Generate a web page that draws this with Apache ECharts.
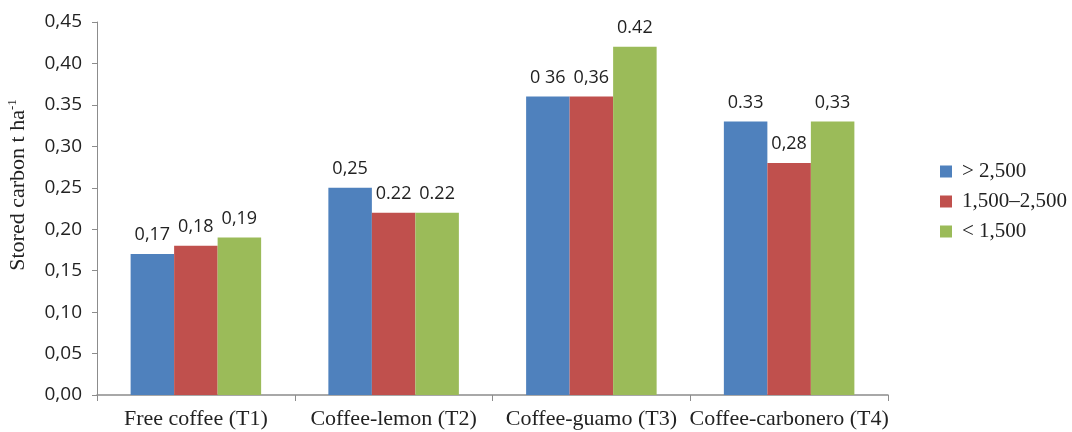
<!DOCTYPE html>
<html>
<head>
<meta charset="utf-8">
<script src="https://cdn.jsdelivr.net/npm/echarts@6/dist/echarts.min.js"></script>
<style>
  html, body { margin: 0; padding: 0; background: #fff; }
  #chart { width: 1072px; height: 432px; }
</style>
</head>
<body>
<div id="chart"></div>
<script>
// Stored carbon by coffee system and altitude band (t ha-1)
const categories = ['Free coffee (T1)', 'Coffee-lemon (T2)', 'Coffee-guamo (T3)', 'Coffee-carbonero (T4)'];
const seriesNames = ['> 2,500', '1,500\u20132,500', '< 1,500'];
const highAltitude = [0.17, 0.25, 0.36, 0.33];
const midAltitude = [0.18, 0.22, 0.36, 0.28];
const lowAltitude = [0.19, 0.22, 0.42, 0.33];
// Value labels as printed above the bars
const highLabels = ['0,17', '0,25', '0 36', '0.33'];
const midLabels = ['0,18', '0.22', '0,36', '0,28'];
const lowLabels = ['0,19', '0.22', '0.42', '0,33'];
// Y tick labels as printed
const yTickLabels = ['0,00', '0,05', '0,10', '0,15', '0,20', '0,25', '0,30', '0.35', '0,40', '0,45'];
const colors = ['#4F81BD', '#C0504D', '#9BBB59'];

const sansFont = '"Open Sans", "Noto Sans", sans-serif';
const serifFont = '"Liberation Serif", "DejaVu Serif", serif';

function makeSeries(name, values, labels, color) {
  return {
    name: name,
    type: 'bar',
    data: values,
    barGap: '0%',
    barCategoryGap: '34%',
    itemStyle: { color: color },
    label: {
      show: true,
      position: 'top',
      distance: 10,
      fontFamily: sansFont,
      fontSize: 18,
      color: '#222',
      formatter: p => labels[p.dataIndex]
    }
  };
}

const chart = echarts.init(document.getElementById('chart'));
chart.setOption({
  animation: false,
  backgroundColor: '#fff',
  grid: { left: 97, right: 184, top: 22, bottom: 37, containLabel: false },
  legend: {
    orient: 'vertical',
    left: 935,
    top: 156,
    itemWidth: 12,
    itemHeight: 12,
    itemGap: 9,
    icon: 'rect',
    textStyle: { fontFamily: serifFont, fontSize: 21, color: '#222', padding: [0, 0, 0, 5] },
    data: seriesNames
  },
  xAxis: {
    type: 'category',
    data: categories,
    axisLine: { lineStyle: { color: '#8c8c8c', width: 1.5 } },
    axisTick: { show: true, alignWithLabel: false, length: 6, lineStyle: { color: '#8c8c8c' } },
    axisLabel: { fontFamily: serifFont, fontSize: 22, color: '#222', margin: 13, interval: 0 }
  },
  yAxis: {
    type: 'value',
    min: 0,
    max: 0.45,
    interval: 0.05,
    splitLine: { show: false },
    axisLine: { show: true, lineStyle: { color: '#8c8c8c', width: 1 } },
    axisTick: { show: true, length: 5, lineStyle: { color: '#8c8c8c' } },
    axisLabel: {
      fontFamily: sansFont,
      fontSize: 19,
      color: '#222',
      margin: 15,
      formatter: v => yTickLabels[Math.round(v / 0.05)]
    }
  },
  graphic: [{
    type: 'text',
    x: 18,
    y: 185,
    rotation: Math.PI / 2,
    style: {
      text: '{m|Stored carbon t ha}{s|-1}',
      align: 'center',
      verticalAlign: 'middle',
      fill: '#222',
      rich: {
        m: { fontFamily: serifFont, fontSize: 22, fill: '#222' },
        s: { fontFamily: serifFont, fontSize: 13, fill: '#222', padding: [0, 0, 11, 0] }
      }
    }
  }],
  series: [
    makeSeries(seriesNames[0], highAltitude, highLabels, colors[0]),
    makeSeries(seriesNames[1], midAltitude, midLabels, colors[1]),
    makeSeries(seriesNames[2], lowAltitude, lowLabels, colors[2])
  ]
});
</script>
</body>
</html>
